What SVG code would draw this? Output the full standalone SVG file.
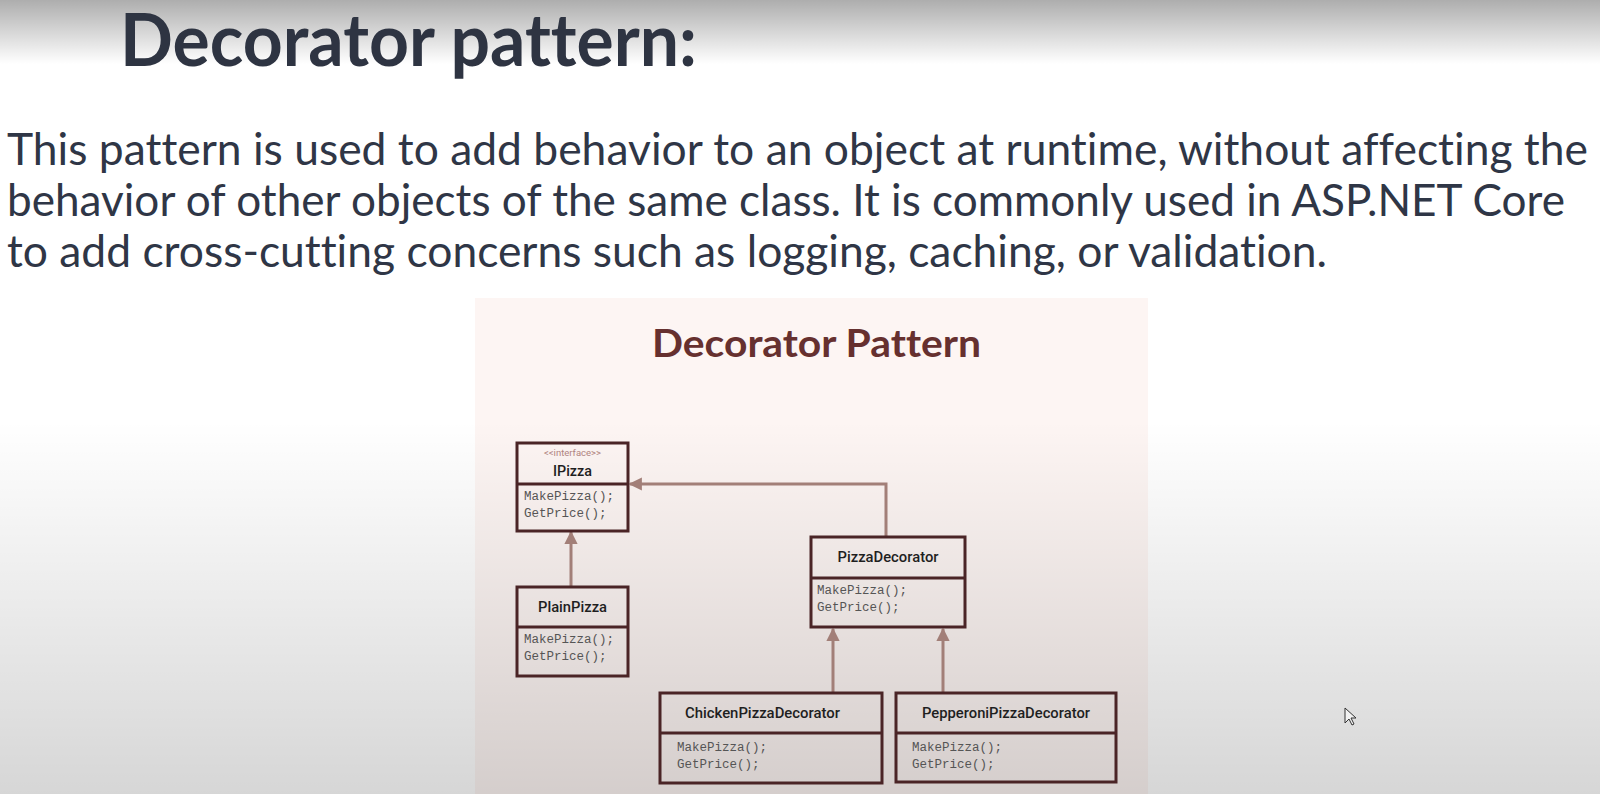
<svg xmlns="http://www.w3.org/2000/svg" width="1600" height="794" viewBox="0 0 1600 794">
<defs>
  <linearGradient id="topShade" x1="0" y1="0" x2="0" y2="1">
    <stop offset="0" stop-color="#000" stop-opacity="0.32"/>
    <stop offset="1" stop-color="#000" stop-opacity="0"/>
  </linearGradient>
  <linearGradient id="botShade" x1="0" y1="0" x2="0" y2="1">
    <stop offset="0" stop-color="#000" stop-opacity="0"/>
    <stop offset="1" stop-color="#000" stop-opacity="0.16"/>
  </linearGradient>
  <marker id="tri" viewBox="0 0 10 10" refX="9" refY="5" markerWidth="4.4" markerHeight="4.4" orient="auto" markerUnits="strokeWidth">
    <path d="M0,0 L10,5 L0,10 Z" fill="#a27f78"/>
  </marker>
  <style>
    text { font-variant-ligatures: none; }
    .title { font-family: Lato, "Liberation Sans", sans-serif; font-weight: 700; font-size: 72px; fill: #2e3442; }
    .body { font-family: Lato, "Liberation Sans", sans-serif; font-weight: 400; font-size: 45px; fill: #2f3646; }
    .sub { font-family: Lato, "Liberation Sans", sans-serif; font-weight: 700; font-size: 39px; fill: #66302f; }
    .box { fill: none; stroke: #4a2426; stroke-width: 3; }
    .name { font-family: Roboto, "Liberation Sans", sans-serif; font-weight: 500; font-size: 14px; fill: #1f1f1f; }
    .stereo { font-family: Roboto, "Liberation Sans", sans-serif; font-size: 9.5px; fill: #b0837f; }
    .meth { font-family: "Liberation Mono", "DejaVu Sans Mono", monospace; font-size: 12.5px; fill: #555; }
    .conn { fill: none; stroke: #a27f78; stroke-width: 3; marker-end: url(#tri); }
  </style>
</defs>

<rect width="1600" height="794" fill="#ffffff"/>
<rect x="475" y="298" width="673" height="496" fill="#fdf5f3"/>
<rect width="1600" height="64" fill="url(#topShade)"/>
<rect y="420" width="1600" height="374" fill="url(#botShade)"/>

<text class="title" x="120" y="66" textLength="577" lengthAdjust="spacingAndGlyphs">Decorator pattern:</text>
<text class="body" x="7" y="165" textLength="1581" lengthAdjust="spacingAndGlyphs">This pattern is used to add behavior to an object at runtime, without affecting the</text>
<text class="body" x="7" y="216" textLength="1558" lengthAdjust="spacingAndGlyphs">behavior of other objects of the same class. It is commonly used in ASP.NET Core</text>
<text class="body" x="7" y="267" textLength="1320" lengthAdjust="spacingAndGlyphs">to add cross-cutting concerns such as logging, caching, or validation.</text>

<text class="sub" x="652" y="357" textLength="329" lengthAdjust="spacingAndGlyphs">Decorator Pattern</text>

<g id="connectors">
  <path class="conn" d="M571,587 L571,532"/>
  <path class="conn" d="M886,537 L886,484 L630,484"/>
  <path class="conn" d="M833,693 L833,629"/>
  <path class="conn" d="M943,693 L943,629"/>
</g>

<g id="IPizza">
  <rect class="box" x="517" y="443" width="111" height="88"/>
  <line class="box" x1="517" y1="484" x2="628" y2="484"/>
  <text class="stereo" x="572.5" y="456" text-anchor="middle">&lt;&lt;interface&gt;&gt;</text>
  <text class="name" x="572.5" y="476" text-anchor="middle" textLength="39" lengthAdjust="spacingAndGlyphs">IPizza</text>
  <text class="meth" x="524" y="500">MakePizza();</text>
  <text class="meth" x="524" y="517">GetPrice();</text>
</g>

<g id="PlainPizza">
  <rect class="box" x="517" y="587" width="111" height="89"/>
  <line class="box" x1="517" y1="627" x2="628" y2="627"/>
  <text class="name" x="572.5" y="612" text-anchor="middle" textLength="69" lengthAdjust="spacingAndGlyphs">PlainPizza</text>
  <text class="meth" x="524" y="643">MakePizza();</text>
  <text class="meth" x="524" y="660">GetPrice();</text>
</g>

<g id="PizzaDecorator">
  <rect class="box" x="811" y="537" width="154" height="90"/>
  <line class="box" x1="811" y1="578" x2="965" y2="578"/>
  <text class="name" x="888" y="562" text-anchor="middle" textLength="101" lengthAdjust="spacingAndGlyphs">PizzaDecorator</text>
  <text class="meth" x="817" y="594">MakePizza();</text>
  <text class="meth" x="817" y="611">GetPrice();</text>
</g>

<g id="ChickenPizzaDecorator">
  <rect class="box" x="660" y="693" width="222" height="90"/>
  <line class="box" x1="660" y1="733" x2="882" y2="733"/>
  <text class="name" x="685" y="718" textLength="155" lengthAdjust="spacingAndGlyphs">ChickenPizzaDecorator</text>
  <text class="meth" x="677" y="751">MakePizza();</text>
  <text class="meth" x="677" y="768">GetPrice();</text>
</g>

<g id="PepperoniPizzaDecorator">
  <rect class="box" x="896" y="693" width="220" height="89"/>
  <line class="box" x1="896" y1="733" x2="1116" y2="733"/>
  <text class="name" x="1006" y="718" text-anchor="middle" textLength="168" lengthAdjust="spacingAndGlyphs">PepperoniPizzaDecorator</text>
  <text class="meth" x="912" y="751">MakePizza();</text>
  <text class="meth" x="912" y="768">GetPrice();</text>
</g>

<path d="M1345,708 L1345,723 L1349,719 L1352,725 L1354,724 L1351,718 L1356,718 Z" fill="#f2f2f2" stroke="#333" stroke-width="1"/>
</svg>
